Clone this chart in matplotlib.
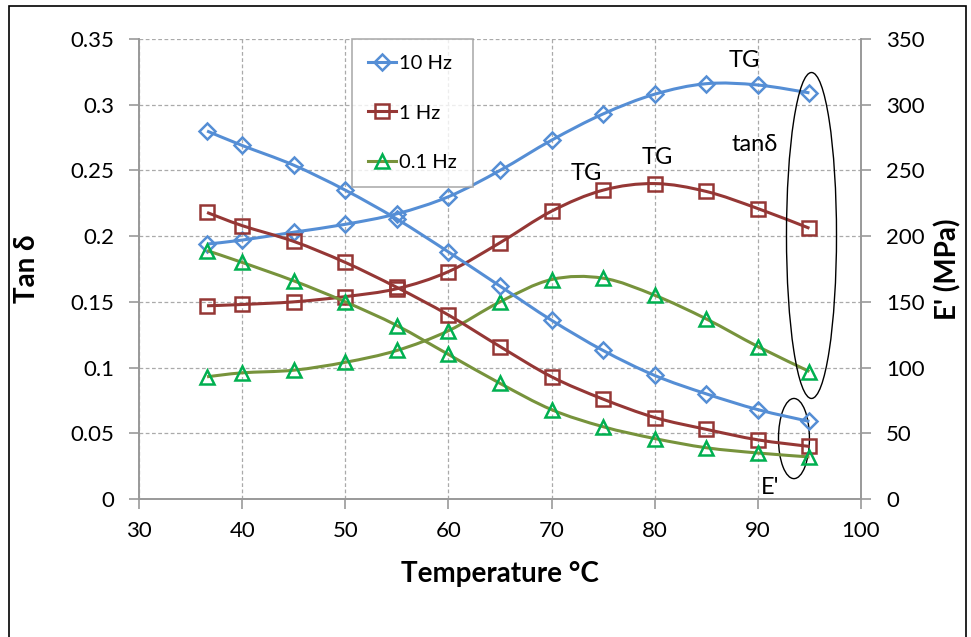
import matplotlib.pyplot as plt
from matplotlib.lines import Line2D
from matplotlib.patches import Ellipse, PathPatch, Rectangle
from matplotlib.path import Path

plt.rcParams['font.family'] = ['Lato', 'DejaVu Sans']

# Temperature steps (deg C)
temperature = [36.6, 40, 45, 50, 55, 60, 65, 70, 75, 80, 85, 90, 95]

# Loss factor per frequency (left axis)
tan_10hz = [0.194, 0.197, 0.203, 0.209, 0.217, 0.230, 0.250, 0.273, 0.293, 0.308, 0.316, 0.315, 0.309]
tan_1hz = [0.147, 0.148, 0.150, 0.154, 0.160, 0.173, 0.195, 0.219, 0.235, 0.240, 0.234, 0.221, 0.206]
tan_01hz = [0.093, 0.096, 0.098, 0.104, 0.113, 0.128, 0.150, 0.167, 0.168, 0.155, 0.137, 0.116, 0.097]

# Storage modulus per frequency in MPa (right axis)
mod_10hz = [280, 269, 254, 235, 213, 188, 162, 136, 113, 94, 80, 68, 59]
mod_1hz = [218, 208, 196, 180, 161, 140, 116, 93, 76, 62, 53, 45, 40]
mod_01hz = [189, 180, 166, 150, 132, 110, 88, 68, 55, 46, 39, 35, 32]

freq_labels = ['10 Hz', '1 Hz', '0.1 Hz']
line_colours = ['#558ED5', '#953735', '#77933C']
marker_colours = ['#558ED5', '#953735', '#00B050']
markers = ['D', 's', '^']
marker_sizes = [8, 10, 10]


def smooth_path(xs, ys, tension=1 / 6):
    """Cubic Bezier path through the points, spreadsheet style smoothing."""
    n = len(xs)
    verts = [(xs[0], ys[0])]
    codes = [Path.MOVETO]
    for i in range(n - 1):
        x0, y0 = (xs[i - 1], ys[i - 1]) if i > 0 else (xs[i], ys[i])
        x3, y3 = (xs[i + 2], ys[i + 2]) if i + 2 < n else (xs[i + 1], ys[i + 1])
        c1 = (xs[i] + (xs[i + 1] - x0) * tension, ys[i] + (ys[i + 1] - y0) * tension)
        c2 = (xs[i + 1] - (x3 - xs[i]) * tension, ys[i + 1] - (y3 - ys[i]) * tension)
        verts += [c1, c2, (xs[i + 1], ys[i + 1])]
        codes += [Path.CURVE4] * 3
    return Path(verts, codes)


fig = plt.figure(figsize=(9.71, 6.37), dpi=100)
fig.patches.append(Rectangle((9 / 971, -0.01), 957 / 971, 1 - 6 / 637 + 0.01,
                             transform=fig.transFigure, fill=False,
                             edgecolor='black', linewidth=1.2))
ax = fig.add_axes([139 / 971, (637 - 499) / 637, 722 / 971, 460 / 637])
ax2 = ax.twinx()

grey = '#999999'
for a in (ax, ax2):
    a.spines['top'].set_visible(False)
    for side in ('left', 'right', 'bottom'):
        a.spines[side].set_color(grey)
        a.spines[side].set_linewidth(1.2)
    a.tick_params(colors=grey, labelcolor='black', labelsize=16, length=7, width=1.2)
    a.tick_params(axis='y', pad=11)
ax.tick_params(axis='x', pad=9)

ax.set_xlim(30, 100)
ax.set_ylim(0, 0.35)
ax2.set_ylim(0, 350)
ax.set_xticks(range(30, 101, 10))
ax.set_yticks([0, 0.05, 0.1, 0.15, 0.2, 0.25, 0.3, 0.35])
ax.set_yticklabels(['0', '0.05', '0.1', '0.15', '0.2', '0.25', '0.3', '0.35'])
ax2.set_yticks(range(0, 351, 50))
ax.grid(True, color='#aaaaaa', linestyle=(0, (3, 2)), linewidth=0.9)
ax.set_axisbelow(True)

ax.set_xlabel('Temperature °C', fontsize=20, fontweight='bold', labelpad=14)
ax.set_ylabel('Tan δ', fontsize=20, fontweight='bold', labelpad=22)
ax2.set_ylabel("E' (MPa)", fontsize=20, fontweight='bold', labelpad=7)

tan_series = [tan_10hz, tan_1hz, tan_01hz]
mod_series = [mod_10hz, mod_1hz, mod_01hz]
for target, group in ((ax, tan_series), (ax2, mod_series)):
    for vals, lc, mc, mk, ms in zip(group, line_colours, marker_colours, markers, marker_sizes):
        target.add_patch(PathPatch(smooth_path(temperature, vals), fill=False,
                                   edgecolor=lc, linewidth=2.2, zorder=3))
        target.plot(temperature, vals, linestyle='none', marker=mk, markersize=ms,
                    markerfacecolor='none', markeredgecolor=mc, markeredgewidth=1.8,
                    zorder=4, clip_on=False)

handles = [Line2D([], [], color=lc, linewidth=2.2, marker=mk, markersize=ms,
                  markerfacecolor='none', markeredgecolor=mc, markeredgewidth=1.8)
           for lc, mc, mk, ms in zip(line_colours, marker_colours, markers, marker_sizes)]
leg = ax2.legend(handles, freq_labels, loc='upper left', bbox_to_anchor=(0.295, 1.0),
                 borderaxespad=0, fontsize=14.5, frameon=True, fancybox=False,
                 borderpad=0.8, labelspacing=1.6, handlelength=1.4, handletextpad=0.15)
leg.get_frame().set_edgecolor(grey)
leg.get_frame().set_linewidth(1.2)

# Annotations for glass transition peaks and curve groups
for tx, ty in ((88.7, 0.334), (80.3, 0.26), (73.4, 0.2475)):
    ax.text(tx, ty, 'TG', fontsize=17, ha='center', va='center', zorder=5)
ax.text(89.7, 0.27, 'tanδ', fontsize=17, ha='center', va='center', zorder=5)
ax.text(91.2, 0.009, "E'", fontsize=17, ha='center', va='center', zorder=5)
ax.add_patch(Ellipse((95.2, 0.2005), 4.85, 0.248, fill=False, edgecolor='black',
                     linewidth=1.0, zorder=5))
ax.add_patch(Ellipse((93.5, 0.046), 3.0, 0.061, fill=False, edgecolor='black',
                     linewidth=1.0, zorder=5))

fig.savefig('out.png', dpi=100)
